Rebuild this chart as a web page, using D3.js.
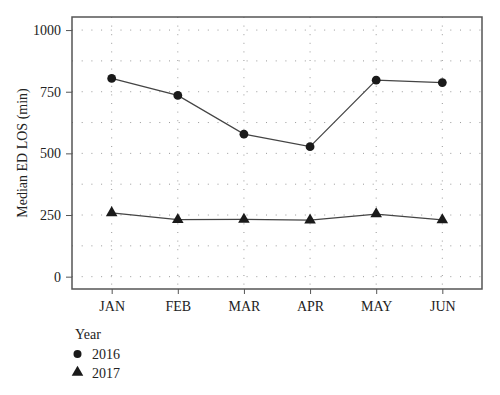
<!DOCTYPE html>
<html>
<head>
<meta charset="utf-8">
<script src="https://cdn.jsdelivr.net/npm/d3@7"></script>
<style>
body { margin: 0; background: #fff; }
text { font-family: "Liberation Serif", "DejaVu Serif", serif; fill: #222; }
</style>
</head>
<body>
<svg width="500" height="395"></svg>
<script>
var months = ["JAN", "FEB", "MAR", "APR", "MAY", "JUN"];
var years = ["2016", "2017"];
var los2016 = [804, 735, 578, 527, 797, 787];
var los2017 = [259, 231, 232, 229, 254, 230];
var yTicks = [0, 250, 500, 750, 1000];
var yGrid = [0, 125, 250, 375, 500, 625, 750, 875, 1000];

var svg = d3.select("svg");
var pLeft = 72, pTop = 17, pRight = 482, pBottom = 289;

var x = d3.scalePoint().domain(months).range([pLeft, pRight]).padding(0.6);
var y = d3.scaleLinear().domain([-50, 1053]).range([pBottom, pTop]);

// dotted grid
svg.append("g").selectAll("line")
    .data(yGrid).enter().append("line")
    .attr("x1", pLeft).attr("x2", pRight)
    .attr("y1", (d) => y(d)).attr("y2", (d) => y(d))
    .attr("stroke", "#999").attr("stroke-width", 1)
    .attr("stroke-dasharray", "1,8.7");
svg.append("g").selectAll("line")
    .data(months).enter().append("line")
    .attr("x1", (d) => x(d)).attr("x2", (d) => x(d))
    .attr("y1", pTop).attr("y2", pBottom)
    .attr("stroke", "#999").attr("stroke-width", 1)
    .attr("stroke-dasharray", "1,7.6");

// frame
svg.append("rect")
    .attr("x", pLeft).attr("y", pTop)
    .attr("width", pRight - pLeft).attr("height", pBottom - pTop)
    .attr("fill", "none").attr("stroke", "#555").attr("stroke-width", 1.5);

var yAxis = svg.append("g")
    .attr("transform", "translate(" + pLeft + ",0)")
    .call(d3.axisLeft(y).tickValues(yTicks).tickFormat(d3.format("d")).tickSize(6).tickPadding(5));
var xAxis = svg.append("g")
    .attr("transform", "translate(0," + pBottom + ")")
    .call(d3.axisBottom(x).tickSize(5).tickPadding(7));
[yAxis, xAxis].forEach(function(a) {
    a.select(".domain").remove();
    a.selectAll(".tick line").attr("stroke", "#555");
    a.selectAll("text").style("font-family", "Liberation Serif, serif")
        .style("font-size", "14px").attr("fill", "#222");
});

svg.append("text")
    .attr("transform", "translate(27,153) rotate(-90)")
    .attr("text-anchor", "middle")
    .style("font-size", "14px")
    .text("Median ED LOS (min)");

var line = d3.line().x((d, i) => x(months[i])).y((d) => y(d));
[los2016, los2017].forEach(function(s) {
    svg.append("path").datum(s)
        .attr("d", line).attr("fill", "none")
        .attr("stroke", "#444").attr("stroke-width", 1.2);
});

svg.selectAll("circle.p16").data(los2016).enter().append("circle")
    .attr("class", "p16")
    .attr("cx", (d, i) => x(months[i])).attr("cy", (d) => y(d))
    .attr("r", 4.4).attr("fill", "#1a1a1a");

var tri = d3.symbol().type(d3.symbolTriangle).size(58);
svg.selectAll("path.p17").data(los2017).enter().append("path")
    .attr("class", "p17")
    .attr("d", tri)
    .attr("transform", (d, i) => "translate(" + x(months[i]) + "," + y(d) + ")")
    .attr("fill", "#1a1a1a");

// legend
var lg = svg.append("g");
lg.append("text").attr("x", 75).attr("y", 339).style("font-size", "14px").text("Year");
lg.append("circle").attr("cx", 77.5).attr("cy", 354).attr("r", 4).attr("fill", "#1a1a1a");
lg.append("text").attr("x", 92).attr("y", 358.5).style("font-size", "14px").text(years[0]);
lg.append("path").attr("d", tri).attr("transform", "translate(77.5,372.5)").attr("fill", "#1a1a1a");
lg.append("text").attr("x", 92).attr("y", 377.5).style("font-size", "14px").text(years[1]);
</script>
</body>
</html>
